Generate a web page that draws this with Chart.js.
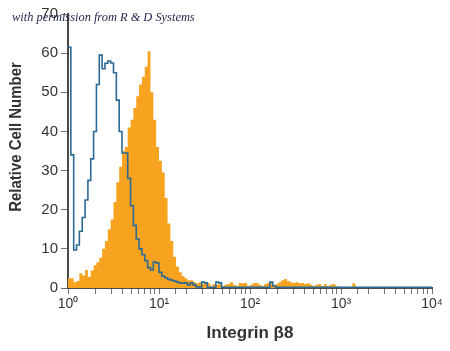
<!DOCTYPE html>
<html>
<head>
<meta charset="utf-8">
<script src="https://cdn.jsdelivr.net/npm/chart.js@4.4.1/dist/chart.umd.min.js"></script>
<style>
html, body { margin: 0; padding: 0; background: #fff; }
</style>
</head>
<body>
<canvas id="myChart" width="450" height="351"></canvas>
<script>
// histogram channels: 32 bins per decade, 10^0 .. 10^4
var binsPerDecade = 32;

// isotype control (blue outline)
var isotypeCounts = [
    61.5, 34, 9.7, 11, 14.5, 18, 22.5, 27.5, 33, 40,
    52, 59.5, 56, 57.4, 58, 57.5, 55, 48, 40, 34.5,
    34.5, 28, 21, 16, 12.5, 10, 8.5, 7, 5.2, 4.6,
    6.6, 6.4, 4, 3, 2.6, 2.2, 2, 1.8, 1.5, 1.3,
    1.2, 1.3, 0.8, 1.3, 0.8, 0.3, 0.3, 1.5, 1.3, 0.2,
    0.2, 0.2, 1.5, 1.3, 0.2, 0.2, 0.2, 0.2, 0.2, 0.2,
    0.2, 0.2, 0.2, 0.2, 0.2, 0.2, 0.2, 0.2, 0.2, 0.2,
    0.2, 1.5, 0.5, 0.2, 0.2, 0.2, 0.2, 0.2, 0.2, 0.2,
    0.2, 0.2, 0.2, 0.2, 0.2, 0.2, 0.2, 0.2, 0.2, 0.2,
    0.2, 0.2, 0.2, 0.2, 0.2, 0.2, 0.2, 0.2, 0.2, 0.2,
    0.2, 0.2, 0.2, 0.2, 0.2, 0.2, 0.2, 0.2, 0.2, 0.2,
    0.2, 0.2, 0.2, 0.2, 0.2, 0.2, 0.2, 0.2, 0.2, 0.2,
    0.2, 0.2, 0.2, 0.2, 0.2, 0.2, 0.2, 0.2
];

// Integrin beta8 stained (orange filled)
var integrinCounts = [
    2.5, 2.5, 1.5, 1.8, 3.8, 3.2, 4.6, 2.8, 4.5, 5.8,
    6.6, 7.7, 10, 12, 15, 17.5, 22, 27, 31, 35,
    36, 41, 43, 46, 49, 52, 54, 56.5, 60.5, 50,
    43, 36, 32.5, 29.5, 23, 16.5, 12, 8, 5.5, 4,
    3, 2.5, 2, 2, 1.5, 1.2, 1.5, 1, 1.5, 1.2,
    0.6, 1, 0.8, 1, 0.5, 0.8, 1, 1.5, 0.8, 0.5,
    1.3, 1.2, 1.3, 0.5, 0.8, 1.3, 1.3, 0.8, 0.5, 1,
    1.3, 1.2, 0.8, 1, 1.5, 2, 2.3, 1.8, 1.5, 1.3,
    1.5, 1.2, 1.3, 1, 1.2, 0.8, 0.5, 0.8, 1, 0.5,
    1, 0.5, 0.8, 1, 0.5, 0.3, 0.2, 0, 0, 0,
    1.2, 0.3, 0, 0, 0, 0, 0, 0, 0, 0,
    0, 0, 0, 0, 0, 0, 0, 0, 0, 0,
    0, 0, 0, 0, 0, 0, 0, 0
];

var decadeLabels = ["10\u2070", "10\u00b9", "10\u00b2", "10\u00b3", "10\u2074"];
var yTicks = [0, 10, 20, 30, 40, 50, 60, 70];

function toPoints(counts) {
    var pts = counts.map(function (v, i) {
        return { x: Math.pow(10, i / binsPerDecade), y: v };
    });
    pts.push({ x: Math.pow(10, counts.length / binsPerDecade), y: counts[counts.length - 1] });
    return pts;
}

var fam = "'Liberation Sans Narrow', 'Liberation Sans', Arial, sans-serif";

// watermark + the condensed y title
var extraText = {
    id: "extraText",
    afterDraw: function (chart) {
        var c = chart.ctx;
        c.save();
        c.font = "italic 12.4px 'Liberation Serif', serif";
        c.fillStyle = "#1f2550";
        c.textBaseline = "alphabetic";
        c.fillText("with permission from R & D Systems", 12, 21);
        c.restore();

        c.save();
        c.translate(16, 137);
        c.rotate(-Math.PI / 2);
        c.scale(0.88, 1);
        c.font = "bold 17px " + fam;
        c.fillStyle = "#333";
        c.textAlign = "center";
        c.textBaseline = "middle";
        c.fillText("Relative Cell Number", 0, 0);
        c.restore();
    }
};

var ctx = document.getElementById("myChart");
var myChart = new Chart(ctx, {
    type: "line",
    data: {
        datasets: [{
            label: "Isotype",
            data: toPoints(isotypeCounts),
            stepped: true,
            borderColor: "#2c6a96",
            borderWidth: 1.6,
            pointRadius: 0,
            fill: false,
        }, {
            label: "Integrin",
            data: toPoints(integrinCounts),
            stepped: true,
            borderWidth: 0,
            borderColor: "rgba(0,0,0,0)",
            backgroundColor: "#f7a31f",
            pointRadius: 0,
            fill: "origin",
        }, ],
    },
    options: {
        responsive: false,
        animation: false,
        layout: { padding: { top: 14, right: 18, left: 0, bottom: 0 } },
        plugins: {
            legend: { display: false },
            tooltip: { enabled: false },
        },
        scales: {
            x: {
                type: "logarithmic",
                min: 1,
                max: 10000,
                afterFit: function (s) { s.height = 63; },
                border: { display: true, color: "#4a4a4a", width: 2 },
                grid: { drawOnChartArea: false, tickLength: 6, tickColor: "#707070" },
                ticks: {
                    autoSkip: false,
                    maxRotation: 0,
                    padding: 2,
                    color: "#333",
                    font: { family: fam, size: 14 },
                    callback: function (v) {
                        var e = Math.round(Math.log10(v));
                        if (Math.abs(Math.log10(v) - e) < 1e-6) return decadeLabels[e];
                        return "";
                    },
                },
                title: {
                    display: true,
                    text: "Integrin \u03b28",
                    color: "#333",
                    font: { family: fam, size: 17, weight: "bold" },
                    padding: { top: 0, bottom: 7 },
                },
            },
            y: {
                min: 0,
                max: 70,
                afterFit: function (s) { s.width = 68; },
                afterBuildTicks: function (s) {
                    s.ticks = yTicks.map(function (v) { return { value: v }; });
                },
                border: { display: true, color: "#4a4a4a", width: 2 },
                grid: { drawOnChartArea: false, tickLength: 7, tickColor: "#707070" },
                ticks: {
                    padding: 3,
                    color: "#333",
                    font: { family: fam, size: 15 },
                },
            },
        },
    },
    plugins: [extraText],
});
</script>
</body>
</html>
